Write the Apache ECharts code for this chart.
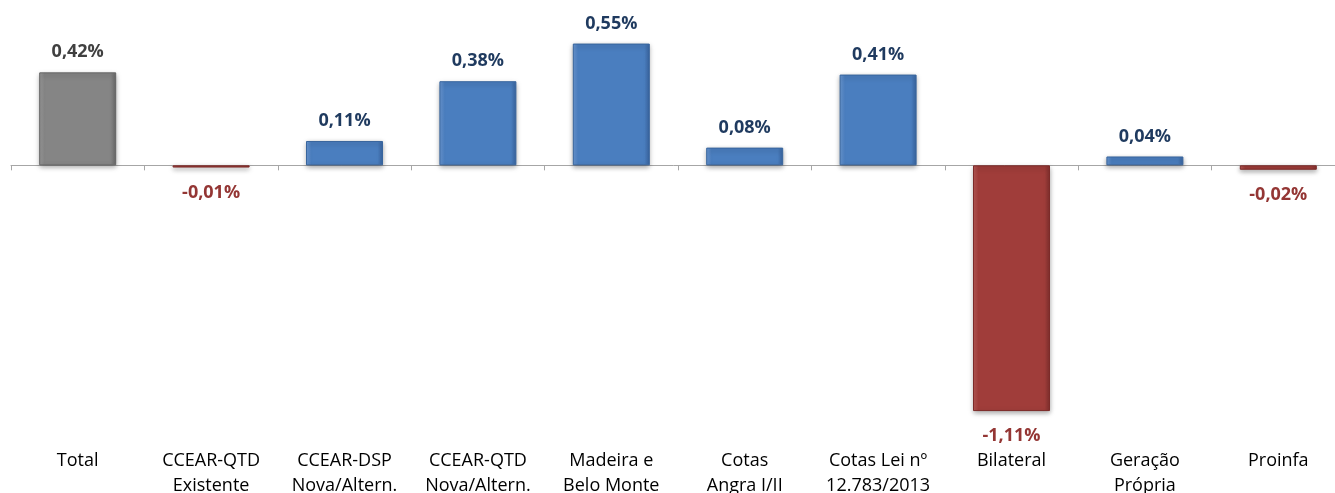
<!DOCTYPE html>
<html><head><meta charset="utf-8">
<script src="https://cdn.jsdelivr.net/npm/echarts@6/dist/echarts.min.js"></script>
<style>html,body{margin:0;padding:0;background:#fff}#c{width:1335px;height:493px}</style>
</head><body><div id="c"></div>
<script>
const categories = ['Total','CCEAR-QTD\nExistente','CCEAR-DSP\nNova/Altern.','CCEAR-QTD\nNova/Altern.','Madeira e\nBelo Monte','Cotas\nAngra I/II','Cotas Lei nº\n12.783/2013','Bilateral','Geração\nPrópria','Proinfa'];
const values = [0.42, -0.01, 0.11, 0.38, 0.55, 0.08, 0.41, -1.11, 0.04, -0.02];

const FONT = '"Open Sans"';
function grad(c1, c2, c3) {
  return new echarts.graphic.LinearGradient(0, 0, 1, 0, [
    {offset: 0, color: c1}, {offset: 0.07, color: c2}, {offset: 0.93, color: c2}, {offset: 1, color: c3}
  ]);
}
const styles = {
  total: {fill: grad('#9c9c9c', '#858585', '#6a6a6a'), border: '#666666', label: '#404040'},
  pos: {fill: grad('#6c9ad6', '#4a7ebf', '#3a66a2'), border: '#38659d', label: '#1f3a5f'},
  neg: {fill: grad('#bb5c59', '#a03d3a', '#83302e'), border: '#7c2b29', label: '#943634'}
};
const data = values.map((v, i) => {
  const s = i === 0 ? styles.total : (v >= 0 ? styles.pos : styles.neg);
  return {
    value: v,
    itemStyle: {color: s.fill, borderColor: s.border, borderWidth: 1,
      shadowBlur: 5, shadowOffsetY: 2, shadowColor: 'rgba(0,0,0,0.35)'},
    label: {color: s.label, position: v >= 0 ? 'top' : 'bottom', distance: v >= 0 ? 11 : 16}
  };
});
const chart = echarts.init(document.getElementById('c'));
chart.setOption({
  animation: false,
  grid: {left: 11, width: 1334, top: 32.5, bottom: 62, outerBoundsMode: 'none', containLabel: false},
  xAxis: [{
    type: 'category', data: categories, position: 'bottom',
    axisLine: {onZero: true, lineStyle: {color: '#a6a6a6', width: 1}},
    axisTick: {show: true, alignWithLabel: false, length: 5, lineStyle: {color: '#a6a6a6'}},
    axisLabel: {show: false}
  }, {
    type: 'category', data: categories, position: 'bottom', offset: 0,
    axisLine: {show: false, onZero: false}, axisTick: {show: false},
    axisLabel: {show: true, interval: 0, margin: 17, color: '#000', fontFamily: FONT, fontSize: 18, lineHeight: 25}
  }],
  yAxis: {type: 'value', min: -1.2, max: 0.6, show: false, splitLine: {show: false}},
  series: [{
    type: 'bar', data: data, barWidth: 77, xAxisIndex: 0,
    label: {show: true, fontFamily: FONT, fontWeight: 'bold', fontSize: 18,
      formatter: p => p.value.toFixed(2).replace('.', ',') + '%'}
  }]
});
</script></body></html>
